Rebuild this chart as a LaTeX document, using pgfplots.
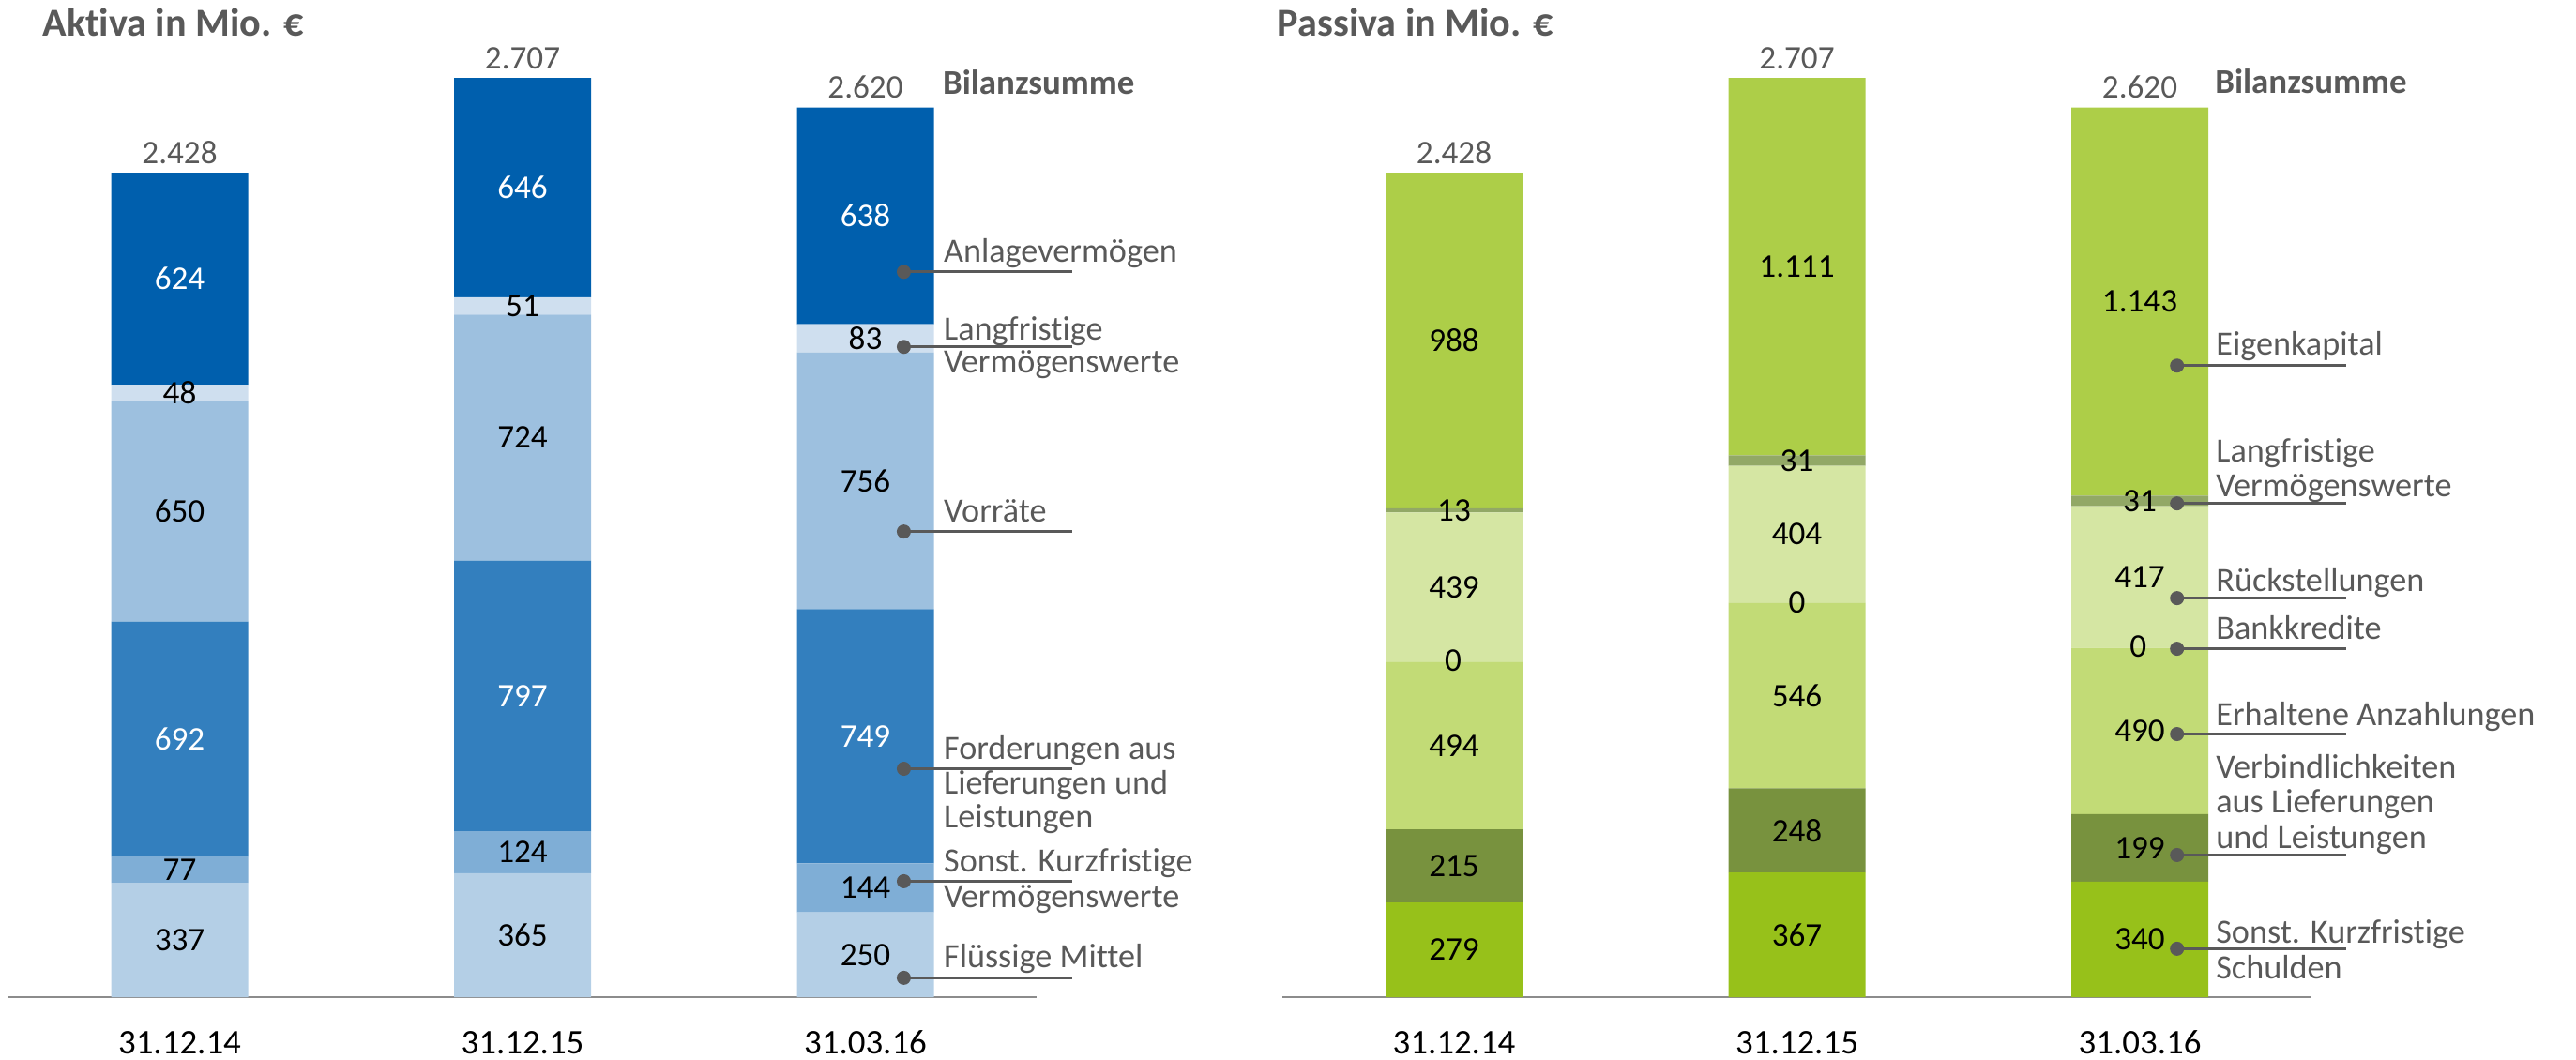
\documentclass[border=0pt]{standalone}
\usepackage{pgfplots}
\pgfplotsset{compat=1.18}
\usepackage{fontspec}
\setmainfont{Carlito}[Ligatures={NoCommon}]

\definecolor{a1}{HTML}{B4CFE6}
\definecolor{a2}{HTML}{7FAED6}
\definecolor{a3}{HTML}{337FBE}
\definecolor{a4}{HTML}{9DC0DF}
\definecolor{a5}{HTML}{CFDFEF}
\definecolor{a6}{HTML}{005FAD}
\definecolor{p1}{HTML}{97C11A}
\definecolor{p2}{HTML}{78923E}
\definecolor{p3}{HTML}{C2DB76}
\definecolor{p5}{HTML}{D5E6A3}
\definecolor{p6}{HTML}{92A866}
\definecolor{p7}{HTML}{ADCE48}
\definecolor{tgray}{HTML}{595959}
\definecolor{agray}{HTML}{8C8C8C}

\newcommand\vfont{\fontsize{10}{12}\selectfont}
\newcommand\afont{\fontsize{10.3}{12.4}\selectfont}

\pgfplotsset{every node near coord/.append style={anchor=center, text=black, font=\vfont}}

\pgfplotsset{
  bilanz/.style={
    scale only axis, anchor=south west,
    width=10.965cm, height=10.135cm,
    xmin=-0.5, xmax=2.5, ymin=0, ymax=2800,
    ybar stacked, bar width=1.46cm,
    axis x line=bottom, axis y line=none,
    x axis line style={draw=agray, line width=0.6pt, -},
    xtick={0,1,2}, xticklabels={31.12.14,31.12.15,31.03.16},
    major tick length=0pt,
    xticklabel style={anchor=base, yshift=-0.6cm, text=black,
      font=\fontsize{10.5}{12}\selectfont},
    clip=false,
    point meta=rawy,
    nodes near coords,
    /pgf/number format/.cd, 1000 sep={.}, assume math mode=true
  }
}

% callout: dot x, line y, line end x
\newcommand\callout[3]{%
  \draw[tgray, line width=0.95pt] (#1,#2) -- (#3,#2);
  \fill[tgray] (#1,#2) circle[radius=7.5];}
\newcommand\ctext[3]{\node[anchor=base west, inner sep=0, text=tgray, font=\afont] at (#1,#2) {#3};}

\begin{document}
\begin{tikzpicture}
\useasboundingbox (0,0) rectangle (27.46cm,11.29cm);

% Aktiva
\begin{axis}[bilanz, at={(0.0875cm,0.66cm)}]
\addplot[fill=a1, draw=none] coordinates {(0,337) (1,365) (2,250)};
\addplot[fill=a2, draw=none] coordinates {(0,77) (1,124) (2,144)};
\addplot[fill=a3, draw=none, nodes near coords style={text=white}] coordinates {(0,692) (1,797) (2,749)};
\addplot[fill=a4, draw=none] coordinates {(0,650) (1,724) (2,756)};
\addplot[fill=a5, draw=none] coordinates {(0,48) (1,51) (2,83)};
\addplot[fill=a6, draw=none, nodes near coords style={text=white}] coordinates {(0,624) (1,646) (2,638)};
\node[anchor=base, yshift=0.1cm, text=tgray, font=\vfont] at (axis cs:0,2428) {2.428};
\node[anchor=base, yshift=0.1cm, text=tgray, font=\vfont] at (axis cs:1,2707) {2.707};
\node[anchor=base, yshift=0.1cm, text=tgray, font=\vfont] at (axis cs:2,2620) {2.620};
\end{axis}

% Passiva
\begin{axis}[bilanz, at={(13.6725cm,0.66cm)}]
\addplot[fill=p1, draw=none] coordinates {(0,279) (1,367) (2,340)};
\addplot[fill=p2, draw=none] coordinates {(0,215) (1,248) (2,199)};
\addplot[fill=p3, draw=none] coordinates {(0,494) (1,546) (2,490)};
\addplot[fill=p3, draw=none, nodes near coords=\empty] coordinates {(0,0) (1,0) (2,0)};
\addplot[fill=p5, draw=none] coordinates {(0,439) (1,404) (2,417)};
\addplot[fill=p6, draw=none] coordinates {(0,13) (1,31) (2,31)};
\addplot[fill=p7, draw=none] coordinates {(0,988) (1,1111) (2,1143)};
\node[anchor=base, yshift=0.1cm, text=tgray, font=\vfont] at (axis cs:0,2428) {2.428};
\node[anchor=base, yshift=0.1cm, text=tgray, font=\vfont] at (axis cs:1,2707) {2.707};
\node[anchor=base, yshift=0.1cm, text=tgray, font=\vfont] at (axis cs:2,2620) {2.620};
\end{axis}

\begin{scope}[shift={(0,11.29cm)}, x=0.01cm, y=-0.01cm]
% Bankkredite (0) labels at the segment boundaries, drawn on top of the bars
\node[font=\vfont, text=black] at (1550,705) {0};
\node[font=\vfont, text=black] at (1916.5,643) {0};
\node[font=\vfont, text=black] at (2280.5,690) {0};

% titles
\node[anchor=base west, inner sep=0, text=tgray, font=\fontsize{12}{14}\selectfont\bfseries] at (45,39) {Aktiva in Mio. €};
\node[anchor=base west, inner sep=0, text=tgray, font=\fontsize{12}{14}\selectfont\bfseries] at (1362,39) {Passiva in Mio. €};
\node[anchor=base west, inner sep=0, text=tgray, font=\fontsize{10.5}{12}\selectfont\bfseries] at (1005,101) {Bilanzsumme};
\node[anchor=base west, inner sep=0, text=tgray, font=\fontsize{10.5}{12}\selectfont\bfseries] at (2362,100) {Bilanzsumme};

% Aktiva callouts
\callout{964}{290}{1144}\ctext{1006}{280}{Anlagevermögen}
\callout{964}{370}{1144}\ctext{1006}{363}{Langfristige}\ctext{1006}{398}{Vermögenswerte}
\callout{964}{567}{1144}\ctext{1006}{557}{Vorräte}
\callout{964}{820}{1144}\ctext{1006}{810}{Forderungen aus}\ctext{1006}{847}{Lieferungen und}\ctext{1006}{883}{Leistungen}
\callout{964}{940}{1144}\ctext{1006}{930}{Sonst. Kurzfristige}\ctext{1006}{968}{Vermögenswerte}
\callout{964}{1043}{1144}\ctext{1006}{1032}{Flüssige Mittel}

% Passiva callouts
\callout{2322}{390}{2502}\ctext{2363}{379}{Eigenkapital}
\callout{2322}{537}{2502}\ctext{2363}{493}{Langfristige}\ctext{2363}{530}{Vermögenswerte}
\callout{2322}{638}{2502}\ctext{2363}{631}{Rückstellungen}
\callout{2322}{692}{2502}\ctext{2363}{682}{Bankkredite}
\callout{2322}{783}{2502}\ctext{2363}{774}{Erhaltene Anzahlungen}
\callout{2322}{912}{2502}\ctext{2363}{830}{Verbindlichkeiten}\ctext{2363}{867}{aus Lieferungen}\ctext{2363}{905}{und Leistungen}
\callout{2322}{1012}{2502}\ctext{2363}{1006}{Sonst. Kurzfristige}\ctext{2363}{1044}{Schulden}
\end{scope}
\end{tikzpicture}
\end{document}
